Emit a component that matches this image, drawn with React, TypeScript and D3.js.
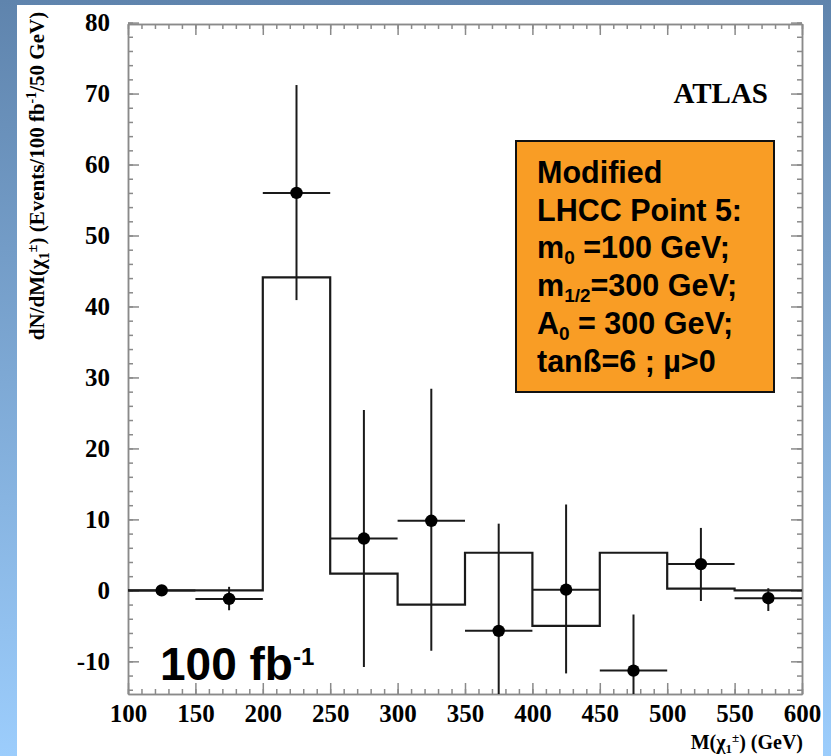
import React, { useEffect, useRef } from "react";
import * as d3 from "d3";

// histogram (prediction), 50 GeV bins
const binEdges = [100, 150, 200, 250, 300, 350, 400, 450, 500, 550, 600];
const predicted = [0, 0, 44.1, 2.35, -2.0, 5.3, -5.0, 5.3, 0.25, 0];

// measured points with errors
const massCenters = [125, 175, 225, 275, 325, 375, 425, 475, 525, 575];
const observed = [0, -1.2, 56.0, 7.3, 9.8, -5.7, 0.1, -11.3, 3.7, -1.1];
const errHigh = [0, 0.5, 71.2, 25.4, 28.4, 9.4, 12.1, -3.4, 8.8, 0.3];
const errLow = [0, -2.8, 40.9, -10.8, -8.5, -20, -11.7, -20, -1.5, -2.9];

const xMajor = [100, 150, 200, 250, 300, 350, 400, 450, 500, 550, 600];
const yMajor = [-10, 0, 10, 20, 30, 40, 50, 60, 70, 80];

const infoLines = [
  { main: "Modified", sub: "", rest: "" },
  { main: "LHCC Point 5:", sub: "", rest: "" },
  { main: "m", sub: "0", rest: " =100 GeV;" },
  { main: "m", sub: "1/2", rest: "=300 GeV;" },
  { main: "A", sub: "0", rest: " = 300 GeV;" },
  { main: "tanß=6 ; µ>0", sub: "", rest: "" },
];

const App: React.FC = () => {
  const svgRef = useRef<SVGSVGElement>(null);

  useEffect(() => {
    const svg = d3.select(svgRef.current).attr("width", 831).attr("height", 756);
    svg.selectAll("*").remove();

    const left = 128, right = 802, top = 24, bottom = 694;
    const x = d3.scaleLinear().domain([100, 600]).range([left, right]);
    const y = d3.scaleLinear().domain([-14.6, 79.8]).range([bottom, top]);

    // background
    const defs = svg.append("defs");
    const grad = defs.append("linearGradient").attr("id", "bg").attr("x1", 0).attr("y1", 0).attr("x2", 0).attr("y2", 1);
    grad.append("stop").attr("offset", "0%").attr("stop-color", "#5f84ad");
    grad.append("stop").attr("offset", "100%").attr("stop-color", "#9ccdfc");
    defs.append("clipPath").attr("id", "plotClip")
      .append("rect").attr("x", left).attr("y", top).attr("width", right - left).attr("height", bottom - top);

    svg.append("rect").attr("width", 831).attr("height", 756).attr("fill", "url(#bg)");
    svg.append("rect").attr("x", 17).attr("y", 5).attr("width", 806).attr("height", 751).attr("fill", "#fff");

    const axisColor = "#8a8a8a";
    const serif = "'Liberation Serif', 'Times New Roman', serif";
    const sans = "'Liberation Sans', Arial, sans-serif";

    // ticks: major + minor, on all four sides
    const xMinor = d3.range(100, 601, 10);
    const yMinor = d3.range(-14, 81, 2);

    const styleAxis = (g: d3.Selection<SVGGElement, unknown, null, undefined>) => {
      g.selectAll("path").attr("stroke", axisColor).attr("stroke-width", 1.5);
      g.selectAll("line").attr("stroke", axisColor).attr("stroke-width", 1.5);
      g.selectAll("text").attr("font-family", serif).attr("font-weight", "bold").attr("font-size", 25).attr("fill", "#000");
    };
    const fmt = (d: d3.NumberValue) => String(d);

    svg.append("g").attr("transform", `translate(${left},0)`)
      .call(d3.axisLeft(y).tickValues(yMinor).tickSize(-5).tickSizeOuter(0).tickFormat(() => ""))
      .call(styleAxis);
    svg.append("g").attr("transform", `translate(${left},0)`)
      .call(d3.axisLeft(y).tickValues(yMajor).tickSize(-11).tickSizeOuter(0).tickPadding(18).tickFormat(fmt))
      .call(styleAxis);
    svg.append("g").attr("transform", `translate(${right},0)`)
      .call(d3.axisRight(y).tickValues(yMinor).tickSize(-5).tickSizeOuter(0).tickFormat(() => ""))
      .call(styleAxis);
    svg.append("g").attr("transform", `translate(${right},0)`)
      .call(d3.axisRight(y).tickValues(yMajor).tickSize(-11).tickSizeOuter(0).tickFormat(() => ""))
      .call(styleAxis);
    svg.append("g").attr("transform", `translate(0,${bottom})`)
      .call(d3.axisBottom(x).tickValues(xMinor).tickSize(-5).tickSizeOuter(0).tickFormat(() => ""))
      .call(styleAxis);
    svg.append("g").attr("transform", `translate(0,${bottom})`)
      .call(d3.axisBottom(x).tickValues(xMajor).tickSize(-11).tickSizeOuter(0).tickPadding(10).tickFormat(fmt))
      .call(styleAxis);
    svg.append("g").attr("transform", `translate(0,${top})`)
      .call(d3.axisTop(x).tickValues(xMinor).tickSize(-5).tickSizeOuter(0).tickFormat(() => ""))
      .call(styleAxis);
    svg.append("g").attr("transform", `translate(0,${top})`)
      .call(d3.axisTop(x).tickValues(xMajor).tickSize(-11).tickSizeOuter(0).tickFormat(() => ""))
      .call(styleAxis);

    const plot = svg.append("g").attr("clip-path", "url(#plotClip)");

    // histogram steps
    const stepPts: [number, number][] = predicted.map((v, i) => [binEdges[i], v]);
    stepPts.push([binEdges[binEdges.length - 1], predicted[predicted.length - 1]]);
    const line = d3.line<[number, number]>().x((d) => x(d[0])).y((d) => y(d[1])).curve(d3.curveStepAfter);
    plot.append("path").attr("d", line(stepPts)).attr("fill", "none").attr("stroke", "#1a1a1a").attr("stroke-width", 2.2);

    // points with error bars
    massCenters.forEach((m, i) => {
      plot.append("line")
        .attr("x1", x(m - 25)).attr("x2", x(m + 25))
        .attr("y1", y(observed[i])).attr("y2", y(observed[i]))
        .attr("stroke", "#1a1a1a").attr("stroke-width", 2);
      plot.append("line")
        .attr("x1", x(m)).attr("x2", x(m))
        .attr("y1", y(errLow[i])).attr("y2", y(errHigh[i]))
        .attr("stroke", "#1a1a1a").attr("stroke-width", 2);
      plot.append("circle").attr("cx", x(m)).attr("cy", y(observed[i])).attr("r", 6.2).attr("fill", "#000");
    });

    // axis titles
    const yt = svg.append("text")
      .attr("transform", "translate(44,176) rotate(-90)")
      .attr("text-anchor", "middle")
      .attr("font-family", serif).attr("font-weight", "bold").attr("font-size", 21).attr("fill", "#000");
    yt.append("tspan").text("dN/dM(χ");
    yt.append("tspan").attr("font-size", 14).attr("dy", 5).text("1");
    yt.append("tspan").attr("font-size", 14).attr("dy", -12).text("±");
    yt.append("tspan").attr("dy", 7).text(") (Events/100 fb");
    yt.append("tspan").attr("font-size", 14).attr("dy", -8).text("-1");
    yt.append("tspan").attr("dy", 8).text("/50 GeV)");

    const xt = svg.append("text")
      .attr("x", 803).attr("y", 749)
      .attr("text-anchor", "end")
      .attr("font-family", serif).attr("font-weight", "bold").attr("font-size", 20).attr("fill", "#000");
    xt.append("tspan").text("M(χ");
    xt.append("tspan").attr("font-size", 13).attr("dy", 4).text("1");
    xt.append("tspan").attr("font-size", 13).attr("dy", -11).text("±");
    xt.append("tspan").attr("dy", 7).text(") (GeV)");

    // ATLAS label
    svg.append("text").attr("x", 768).attr("y", 103).attr("text-anchor", "end")
      .attr("font-family", serif).attr("font-weight", "bold").attr("font-size", 29).text("ATLAS");

    // orange info box
    svg.append("rect").attr("x", 516).attr("y", 141).attr("width", 258).attr("height", 251)
      .attr("fill", "#f99d25").attr("stroke", "#111").attr("stroke-width", 2);
    infoLines.forEach((l, i) => {
      const t = svg.append("text").attr("x", 537).attr("y", 183 + i * 37.7)
        .attr("font-family", sans).attr("font-weight", "bold").attr("font-size", 30.5).attr("fill", "#000");
      t.append("tspan").text(l.main);
      if (l.sub) {
        t.append("tspan").attr("font-size", 19).attr("dy", 6).text(l.sub);
        t.append("tspan").attr("dy", -6).text(l.rest);
      }
    });

    // luminosity label
    const lum = svg.append("text").attr("x", 160).attr("y", 680)
      .attr("font-family", sans).attr("font-weight", "bold").attr("font-size", 46).attr("fill", "#000");
    lum.append("tspan").text("100 fb");
    lum.append("tspan").attr("font-size", 24).attr("dy", -15).text("-1");
  });

  return (
    <svg ref={svgRef} style={{ position: "absolute", left: 0, top: 0, display: "block" }}></svg>
  );
};

export default App;
